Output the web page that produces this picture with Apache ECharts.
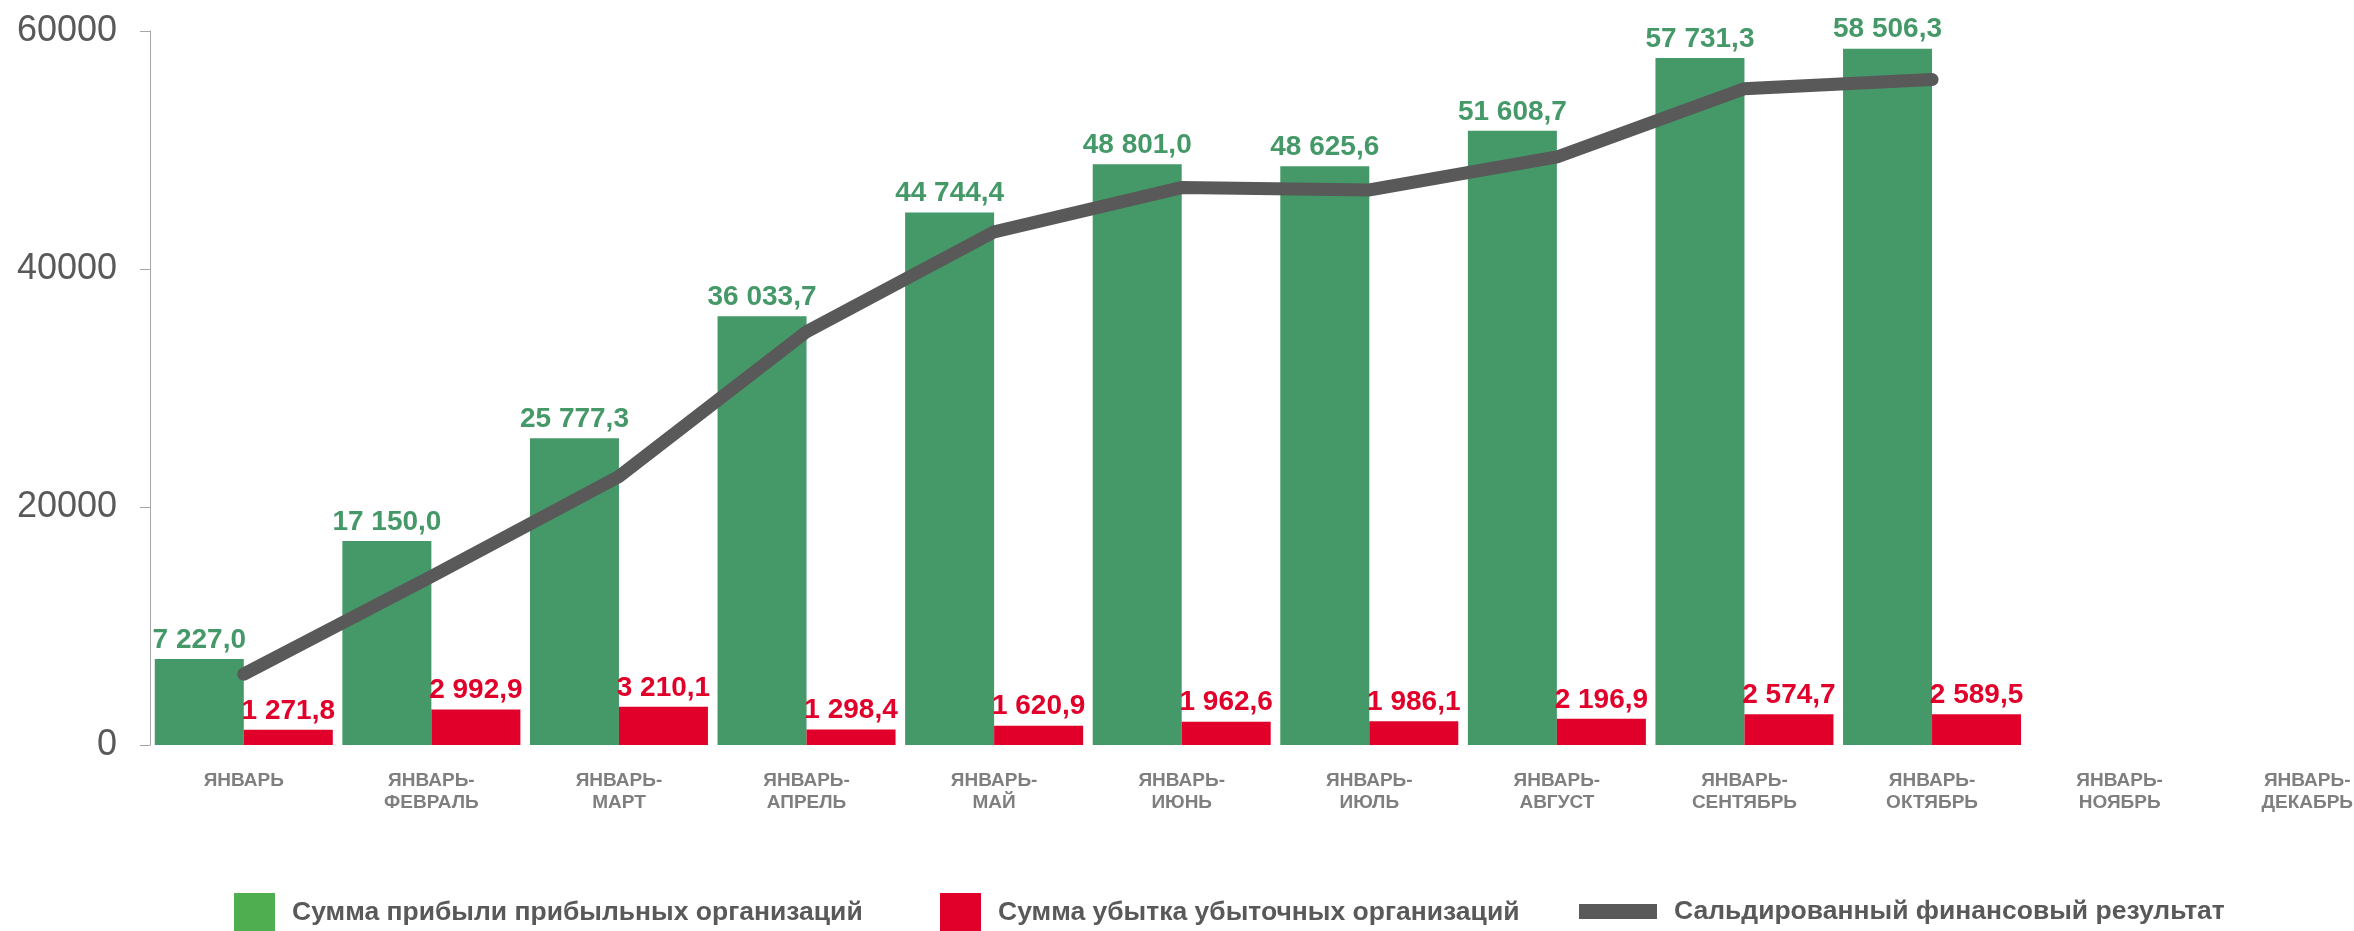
<!DOCTYPE html>
<html>
<head>
<meta charset="utf-8">
<script src="https://cdn.jsdelivr.net/npm/echarts@6/dist/echarts.min.js"></script>
<style>
  html, body { margin: 0; padding: 0; background: #fff; overflow: hidden; }
  #chart { width: 2401px; height: 931px; }
</style>
</head>
<body>
<div id="chart"></div>
<script>
const categories = ['ЯНВАРЬ', 'ЯНВАРЬ-\nФЕВРАЛЬ', 'ЯНВАРЬ-\nМАРТ', 'ЯНВАРЬ-\nАПРЕЛЬ', 'ЯНВАРЬ-\nМАЙ', 'ЯНВАРЬ-\nИЮНЬ',
  'ЯНВАРЬ-\nИЮЛЬ', 'ЯНВАРЬ-\nАВГУСТ', 'ЯНВАРЬ-\nСЕНТЯБРЬ', 'ЯНВАРЬ-\nОКТЯБРЬ', 'ЯНВАРЬ-\nНОЯБРЬ', 'ЯНВАРЬ-\nДЕКАБРЬ'];
const profit = [7227.0, 17150.0, 25777.3, 36033.7, 44744.4, 48801.0, 48625.6, 51608.7, 57731.3, 58506.3, null, null];
const loss = [1271.8, 2992.9, 3210.1, 1298.4, 1620.9, 1962.6, 1986.1, 2196.9, 2574.7, 2589.5, null, null];
const balance = [5955.2, 14157.1, 22567.2, 34735.3, 43123.5, 46838.4, 46639.5, 49411.8, 55156.6, 55916.8, null, null];
const seriesNames = ['Сумма прибыли прибыльных организаций', 'Сумма убытка убыточных организаций', 'Сальдированный финансовый результат'];

const font = "'Liberation Sans', Arial, sans-serif";
const green = '#459968';
const red = '#e1002a';
const grey = '#595959';

// 7227.0 -> "7 227,0"
function fmt(v) {
  const parts = v.toFixed(1).split('.');
  return parts[0].replace(/\B(?=(\d{3})+(?!\d))/g, ' ') + ',' + parts[1];
}

const chart = echarts.init(document.getElementById('chart'));

const legendText = {
  fontFamily: font,
  fontSize: 26.5,
  fontWeight: 'bold',
  color: grey,
  padding: [0, 0, 0, 12]
};

const barLabel = color => ({
  show: true,
  position: 'top',
  distance: 5,
  fontFamily: font,
  fontSize: 28,
  fontWeight: 'bold',
  color: color,
  formatter: p => fmt(p.value)
});

chart.setOption({
  animation: false,
  grid: {
    left: 150,
    right: 0,
    top: 31,
    bottom: 186
  },
  legend: [{
    left: 229,
    top: 888,
    itemWidth: 41,
    itemHeight: 40,
    textStyle: legendText,
    data: [{ name: seriesNames[0], icon: 'rect', itemStyle: { color: '#4fae4f' } }]
  }, {
    left: 935,
    top: 888,
    itemWidth: 41,
    itemHeight: 40,
    textStyle: legendText,
    data: [{ name: seriesNames[1], icon: 'rect' }]
  }, {
    left: 1574,
    top: 893,
    itemWidth: 78,
    itemHeight: 15,
    textStyle: legendText,
    data: [{ name: seriesNames[2], icon: 'rect', itemStyle: { color: grey } }]
  }],
  xAxis: {
    type: 'category',
    data: categories,
    axisLine: { show: false },
    axisTick: { show: false },
    axisLabel: {
      interval: 0,
      margin: 25,
      fontFamily: font,
      fontSize: 19,
      fontWeight: 'bold',
      lineHeight: 22,
      color: '#7f7f7f'
    }
  },
  yAxis: {
    type: 'value',
    min: 0,
    max: 60000,
    interval: 20000,
    splitLine: { show: false },
    axisLine: { show: true, lineStyle: { color: '#a6a6a6', width: 1 } },
    axisTick: { show: true, length: 10, lineStyle: { color: '#a6a6a6' } },
    axisLabel: {
      margin: 33,
      fontFamily: font,
      fontSize: 36,
      color: grey,
      formatter: v => String(v)
    }
  },
  series: [{
    name: seriesNames[0],
    type: 'bar',
    data: profit,
    barWidth: 89,
    barGap: '0%',
    itemStyle: { color: green },
    label: barLabel(green)
  }, {
    name: seriesNames[1],
    type: 'bar',
    data: loss,
    barWidth: 89,
    barGap: '0%',
    itemStyle: { color: red },
    label: barLabel(red)
  }, {
    name: seriesNames[2],
    type: 'line',
    data: balance,
    symbol: 'none',
    z: 5,
    lineStyle: { color: grey, width: 13, cap: 'round', join: 'miter' },
    itemStyle: { color: grey }
  }]
});
</script>
</body>
</html>
